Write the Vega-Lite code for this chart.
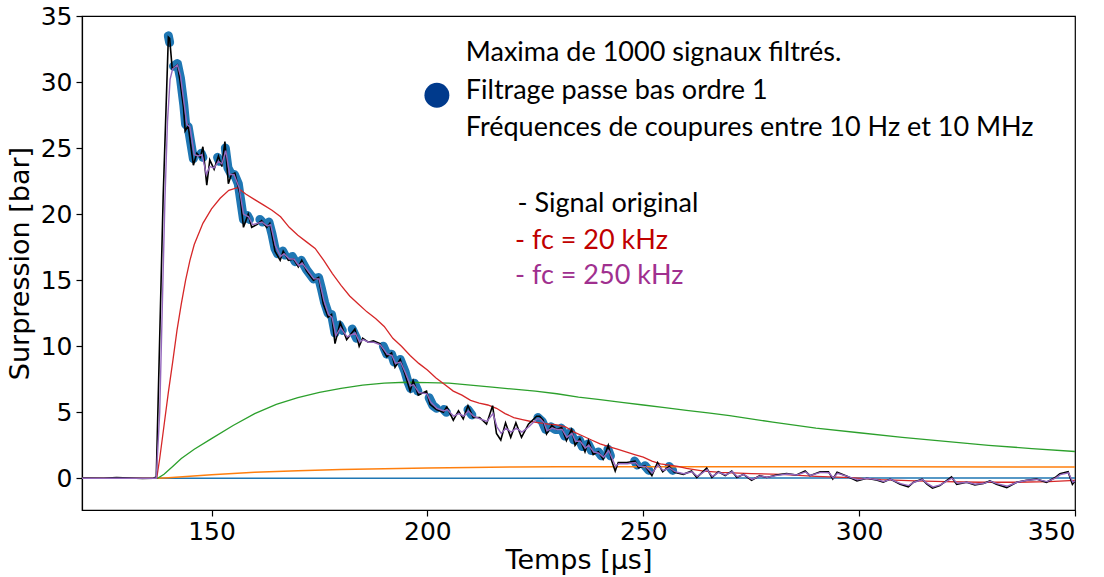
{
  "$schema": "https://vega.github.io/schema/vega-lite/v6.json",
  "width": 993,
  "height": 494,
  "autosize": {"type": "none"},
  "padding": {"left": 82, "top": 16, "right": 29, "bottom": 67},
  "background": "white",
  "config": {
    "view": {"stroke": "black", "strokeWidth": 1.2},
    "axis": {"grid": false, "domainColor": "black", "tickColor": "black", "labelColor": "black", "titleColor": "black", "labelFont": "DejaVu Sans", "titleFont": "DejaVu Sans", "labelFontSize": 25, "titleFontSize": 27, "titleFontWeight": "normal", "tickSize": 6, "domainWidth": 1.2, "tickWidth": 1.2}
  },
  "datasets": {
    "lines": [
      {"s": "flat", "t": 120, "v": 0}, {"s": "flat", "t": 137.3, "v": 0}, {"s": "flat", "t": 200, "v": 0.01}, {"s": "flat", "t": 350, "v": 0.02},
      {"s": "orange", "t": 120, "v": 0}, {"s": "orange", "t": 137.4, "v": 0}, {"s": "orange", "t": 140, "v": 0.05}, {"s": "orange", "t": 145, "v": 0.15}, {"s": "orange", "t": 150, "v": 0.27}, {"s": "orange", "t": 160, "v": 0.45}, {"s": "orange", "t": 170, "v": 0.57}, {"s": "orange", "t": 180, "v": 0.66}, {"s": "orange", "t": 190, "v": 0.73}, {"s": "orange", "t": 200, "v": 0.78}, {"s": "orange", "t": 210, "v": 0.82}, {"s": "orange", "t": 220, "v": 0.85}, {"s": "orange", "t": 230, "v": 0.87}, {"s": "orange", "t": 240, "v": 0.88}, {"s": "orange", "t": 260, "v": 0.88}, {"s": "orange", "t": 300, "v": 0.87}, {"s": "orange", "t": 350, "v": 0.85},
      {"s": "green", "t": 120, "v": 0}, {"s": "green", "t": 137.5, "v": 0}, {"s": "green", "t": 139, "v": 0.3}, {"s": "green", "t": 141, "v": 0.9}, {"s": "green", "t": 143, "v": 1.5}, {"s": "green", "t": 146, "v": 2.2}, {"s": "green", "t": 150, "v": 3.0}, {"s": "green", "t": 155, "v": 4.0}, {"s": "green", "t": 160, "v": 4.9}, {"s": "green", "t": 165, "v": 5.6}, {"s": "green", "t": 170, "v": 6.1}, {"s": "green", "t": 175, "v": 6.5}, {"s": "green", "t": 180, "v": 6.8}, {"s": "green", "t": 185, "v": 7.05}, {"s": "green", "t": 190, "v": 7.2}, {"s": "green", "t": 195, "v": 7.27}, {"s": "green", "t": 200, "v": 7.25}, {"s": "green", "t": 205, "v": 7.2}, {"s": "green", "t": 210, "v": 7.05}, {"s": "green", "t": 215, "v": 6.9}, {"s": "green", "t": 220, "v": 6.75}, {"s": "green", "t": 225, "v": 6.6}, {"s": "green", "t": 230, "v": 6.4}, {"s": "green", "t": 235, "v": 6.15}, {"s": "green", "t": 240, "v": 5.95}, {"s": "green", "t": 245, "v": 5.75}, {"s": "green", "t": 250, "v": 5.55}, {"s": "green", "t": 255, "v": 5.35}, {"s": "green", "t": 260, "v": 5.15}, {"s": "green", "t": 265, "v": 4.95}, {"s": "green", "t": 270, "v": 4.75}, {"s": "green", "t": 280, "v": 4.25}, {"s": "green", "t": 290, "v": 3.8}, {"s": "green", "t": 300, "v": 3.45}, {"s": "green", "t": 310, "v": 3.1}, {"s": "green", "t": 320, "v": 2.8}, {"s": "green", "t": 330, "v": 2.5}, {"s": "green", "t": 340, "v": 2.25}, {"s": "green", "t": 350, "v": 2.03},
      {"s": "red", "t": 120, "v": 0}, {"s": "red", "t": 137.3, "v": 0}, {"s": "red", "t": 138, "v": 1.5}, {"s": "red", "t": 139, "v": 4.0}, {"s": "red", "t": 140, "v": 6.5}, {"s": "red", "t": 141, "v": 8.8}, {"s": "red", "t": 142, "v": 11.2}, {"s": "red", "t": 143, "v": 13.2}, {"s": "red", "t": 144, "v": 15.0}, {"s": "red", "t": 145, "v": 16.5}, {"s": "red", "t": 146, "v": 17.7}, {"s": "red", "t": 148, "v": 19.3}, {"s": "red", "t": 150, "v": 20.4}, {"s": "red", "t": 152, "v": 21.2}, {"s": "red", "t": 154, "v": 21.8}, {"s": "red", "t": 156, "v": 22.0}, {"s": "red", "t": 158, "v": 21.5}, {"s": "red", "t": 160, "v": 21.1}, {"s": "red", "t": 162, "v": 20.7}, {"s": "red", "t": 164, "v": 20.3}, {"s": "red", "t": 166, "v": 19.8}, {"s": "red", "t": 168, "v": 19.0}, {"s": "red", "t": 170, "v": 18.4}, {"s": "red", "t": 172, "v": 17.9}, {"s": "red", "t": 174, "v": 17.4}, {"s": "red", "t": 176, "v": 16.5}, {"s": "red", "t": 178, "v": 15.5}, {"s": "red", "t": 180, "v": 14.6}, {"s": "red", "t": 182, "v": 13.8}, {"s": "red", "t": 184, "v": 13.2}, {"s": "red", "t": 186, "v": 12.6}, {"s": "red", "t": 188, "v": 12.1}, {"s": "red", "t": 190, "v": 11.5}, {"s": "red", "t": 192, "v": 10.6}, {"s": "red", "t": 194, "v": 10.0}, {"s": "red", "t": 196, "v": 9.3}, {"s": "red", "t": 198, "v": 8.7}, {"s": "red", "t": 200, "v": 8.2}, {"s": "red", "t": 202, "v": 7.6}, {"s": "red", "t": 204, "v": 7.1}, {"s": "red", "t": 206, "v": 6.6}, {"s": "red", "t": 208, "v": 6.3}, {"s": "red", "t": 210, "v": 5.9}, {"s": "red", "t": 212, "v": 5.7}, {"s": "red", "t": 214, "v": 5.55}, {"s": "red", "t": 216, "v": 5.3}, {"s": "red", "t": 218, "v": 4.9}, {"s": "red", "t": 220, "v": 4.6}, {"s": "red", "t": 222, "v": 4.45}, {"s": "red", "t": 224, "v": 4.3}, {"s": "red", "t": 226, "v": 4.2}, {"s": "red", "t": 228, "v": 4.1}, {"s": "red", "t": 230, "v": 4.05}, {"s": "red", "t": 232, "v": 3.9}, {"s": "red", "t": 234, "v": 3.5}, {"s": "red", "t": 236, "v": 3.2}, {"s": "red", "t": 238, "v": 2.9}, {"s": "red", "t": 240, "v": 2.6}, {"s": "red", "t": 242, "v": 2.4}, {"s": "red", "t": 244, "v": 2.2}, {"s": "red", "t": 246, "v": 2.0}, {"s": "red", "t": 248, "v": 1.8}, {"s": "red", "t": 250, "v": 1.6}, {"s": "red", "t": 252, "v": 1.3}, {"s": "red", "t": 254, "v": 1.1}, {"s": "red", "t": 256, "v": 1.0}, {"s": "red", "t": 258, "v": 0.9}, {"s": "red", "t": 260, "v": 0.75}, {"s": "red", "t": 264, "v": 0.55}, {"s": "red", "t": 268, "v": 0.45}, {"s": "red", "t": 275, "v": 0.35}, {"s": "red", "t": 282, "v": 0.3}, {"s": "red", "t": 290, "v": 0.15}, {"s": "red", "t": 298, "v": 0.05}, {"s": "red", "t": 305, "v": -0.1}, {"s": "red", "t": 313, "v": -0.2}, {"s": "red", "t": 320, "v": -0.25}, {"s": "red", "t": 328, "v": -0.3}, {"s": "red", "t": 336, "v": -0.3}, {"s": "red", "t": 344, "v": -0.25}, {"s": "red", "t": 350, "v": -0.15},
      {"s": "purple", "t": 120, "v": 0}, {"s": "purple", "t": 137.2, "v": 0}, {"s": "purple", "t": 138, "v": 5}, {"s": "purple", "t": 138.6, "v": 13}, {"s": "purple", "t": 139.2, "v": 21}, {"s": "purple", "t": 139.8, "v": 27}, {"s": "purple", "t": 140.4, "v": 30.2}, {"s": "purple", "t": 141, "v": 31.0}, {"s": "purple", "t": 142.1, "v": 31.3}, {"s": "purple", "t": 142.8, "v": 30.5}, {"s": "purple", "t": 143.6, "v": 28.5}, {"s": "purple", "t": 144.3, "v": 26.8}, {"s": "purple", "t": 145, "v": 26.6}, {"s": "purple", "t": 146, "v": 24.5}, {"s": "purple", "t": 147, "v": 24.4}, {"s": "purple", "t": 147.8, "v": 24.5}, {"s": "purple", "t": 148.8, "v": 23.0}, {"s": "purple", "t": 149.6, "v": 23.6}, {"s": "purple", "t": 150.6, "v": 23.5}, {"s": "purple", "t": 151.6, "v": 24.0}, {"s": "purple", "t": 152.4, "v": 23.8}, {"s": "purple", "t": 153.3, "v": 24.8}, {"s": "purple", "t": 154.2, "v": 23.0}, {"s": "purple", "t": 155.2, "v": 23.0}, {"s": "purple", "t": 156.4, "v": 22.0}, {"s": "purple", "t": 157.4, "v": 20.0}, {"s": "purple", "t": 158.6, "v": 19.8}, {"s": "purple", "t": 159.5, "v": 19.2}, {"s": "purple", "t": 160.6, "v": 19.3}, {"s": "purple", "t": 161.7, "v": 19.4}, {"s": "purple", "t": 162.9, "v": 19.1}, {"s": "purple", "t": 163.7, "v": 19.2}, {"s": "purple", "t": 164.8, "v": 17.6}, {"s": "purple", "t": 166, "v": 16.8}, {"s": "purple", "t": 166.8, "v": 17.0}, {"s": "purple", "t": 168, "v": 16.6}, {"s": "purple", "t": 169.1, "v": 16.6}, {"s": "purple", "t": 170.2, "v": 16.1}, {"s": "purple", "t": 171, "v": 16.3}, {"s": "purple", "t": 172.1, "v": 15.8}, {"s": "purple", "t": 173.7, "v": 15.1}, {"s": "purple", "t": 174.9, "v": 15.1}, {"s": "purple", "t": 176, "v": 13.5}, {"s": "purple", "t": 177.1, "v": 12.4}, {"s": "purple", "t": 177.9, "v": 12.2}, {"s": "purple", "t": 178.8, "v": 10.8}, {"s": "purple", "t": 179.9, "v": 11.4}, {"s": "purple", "t": 181.4, "v": 10.7}, {"s": "purple", "t": 183.3, "v": 11.0}, {"s": "purple", "t": 184.3, "v": 10.3}, {"s": "purple", "t": 185.1, "v": 10.5}, {"s": "purple", "t": 186.4, "v": 10.3}, {"s": "purple", "t": 187.6, "v": 10.3}, {"s": "purple", "t": 189.1, "v": 10.1}, {"s": "purple", "t": 190.7, "v": 9.4}, {"s": "purple", "t": 191.8, "v": 9.3}, {"s": "purple", "t": 192.6, "v": 8.7}, {"s": "purple", "t": 193.8, "v": 8.8}, {"s": "purple", "t": 194.9, "v": 8.0}, {"s": "purple", "t": 196.1, "v": 7.0}, {"s": "purple", "t": 196.8, "v": 7.1}, {"s": "purple", "t": 198, "v": 6.5}, {"s": "purple", "t": 199.9, "v": 6.4}, {"s": "purple", "t": 200.7, "v": 5.8}, {"s": "purple", "t": 202.2, "v": 5.3}, {"s": "purple", "t": 203.8, "v": 5.1}, {"s": "purple", "t": 204.6, "v": 5.2}, {"s": "purple", "t": 206.1, "v": 4.7}, {"s": "purple", "t": 207.3, "v": 4.9}, {"s": "purple", "t": 208.4, "v": 4.7}, {"s": "purple", "t": 209.5, "v": 5.1}, {"s": "purple", "t": 210.7, "v": 4.7}, {"s": "purple", "t": 212.2, "v": 4.5}, {"s": "purple", "t": 213.8, "v": 4.3}, {"s": "purple", "t": 215.2, "v": 4.9}, {"s": "purple", "t": 216.1, "v": 3.9}, {"s": "purple", "t": 217.1, "v": 3.4}, {"s": "purple", "t": 218.2, "v": 3.8}, {"s": "purple", "t": 219.4, "v": 3.5}, {"s": "purple", "t": 220.6, "v": 3.8}, {"s": "purple", "t": 221.9, "v": 3.5}, {"s": "purple", "t": 223.5, "v": 3.9}, {"s": "purple", "t": 225.4, "v": 4.5}, {"s": "purple", "t": 226.2, "v": 4.5}, {"s": "purple", "t": 227, "v": 4.2}, {"s": "purple", "t": 227.7, "v": 3.6}, {"s": "purple", "t": 228.9, "v": 3.8}, {"s": "purple", "t": 230, "v": 3.7}, {"s": "purple", "t": 231.2, "v": 3.7}, {"s": "purple", "t": 232.3, "v": 3.1}, {"s": "purple", "t": 233.5, "v": 3.4}, {"s": "purple", "t": 234.3, "v": 2.8}, {"s": "purple", "t": 235.4, "v": 2.8}, {"s": "purple", "t": 236.6, "v": 2.3}, {"s": "purple", "t": 237.4, "v": 2.5}, {"s": "purple", "t": 238.5, "v": 2.0}, {"s": "purple", "t": 239.7, "v": 1.9}, {"s": "purple", "t": 240.8, "v": 1.6}, {"s": "purple", "t": 242, "v": 2.1}, {"s": "purple", "t": 242.8, "v": 1.5}, {"s": "purple", "t": 243.6, "v": 0.9}, {"s": "purple", "t": 244.3, "v": 1.1}, {"s": "purple", "t": 246.3, "v": 1.1}, {"s": "purple", "t": 248.2, "v": 1.2}, {"s": "purple", "t": 249, "v": 0.9}, {"s": "purple", "t": 250.5, "v": 0.9}, {"s": "purple", "t": 252.1, "v": 0.4}, {"s": "purple", "t": 253.4, "v": 1.0}, {"s": "purple", "t": 254.6, "v": 0.6}, {"s": "purple", "t": 256.1, "v": 0.8}, {"s": "purple", "t": 257.3, "v": 0.5}, {"s": "purple", "t": 259.4, "v": 0.35}, {"s": "purple", "t": 261.3, "v": 0.5}, {"s": "purple", "t": 262.5, "v": 0.15}, {"s": "purple", "t": 264.8, "v": 0.65}, {"s": "purple", "t": 266, "v": 0.15}, {"s": "purple", "t": 267.5, "v": 0.45}, {"s": "purple", "t": 269.1, "v": 0.25}, {"s": "purple", "t": 270.6, "v": 0.5}, {"s": "purple", "t": 271.8, "v": 0.12}, {"s": "purple", "t": 273.3, "v": 0.28}, {"s": "purple", "t": 275.2, "v": -0.08}, {"s": "purple", "t": 277.1, "v": 0.18}, {"s": "purple", "t": 278.7, "v": 0.08}, {"s": "purple", "t": 281, "v": 0.22}, {"s": "purple", "t": 283.3, "v": 0.32}, {"s": "purple", "t": 285.6, "v": 0.25}, {"s": "purple", "t": 287.6, "v": 0.48}, {"s": "purple", "t": 288.7, "v": 0.22}, {"s": "purple", "t": 291.1, "v": 0.45}, {"s": "purple", "t": 293, "v": 0.42}, {"s": "purple", "t": 294, "v": 0.02}, {"s": "purple", "t": 295, "v": 0.38}, {"s": "purple", "t": 297.3, "v": 0.15}, {"s": "purple", "t": 299.6, "v": -0.12}, {"s": "purple", "t": 301.9, "v": 0.0}, {"s": "purple", "t": 304.3, "v": -0.12}, {"s": "purple", "t": 305.7, "v": -0.25}, {"s": "purple", "t": 307.3, "v": -0.08}, {"s": "purple", "t": 309.6, "v": -0.4}, {"s": "purple", "t": 311.5, "v": -0.55}, {"s": "purple", "t": 312.7, "v": -0.3}, {"s": "purple", "t": 314.7, "v": -0.1}, {"s": "purple", "t": 315.8, "v": -0.4}, {"s": "purple", "t": 317.1, "v": -0.65}, {"s": "purple", "t": 318.8, "v": -0.5}, {"s": "purple", "t": 321.5, "v": 0.02}, {"s": "purple", "t": 322.7, "v": -0.38}, {"s": "purple", "t": 325, "v": -0.3}, {"s": "purple", "t": 326.9, "v": -0.45}, {"s": "purple", "t": 328.9, "v": -0.38}, {"s": "purple", "t": 330.4, "v": -0.22}, {"s": "purple", "t": 331.9, "v": -0.4}, {"s": "purple", "t": 334.3, "v": -0.6}, {"s": "purple", "t": 336.6, "v": -0.3}, {"s": "purple", "t": 338.9, "v": -0.15}, {"s": "purple", "t": 341.2, "v": -0.08}, {"s": "purple", "t": 343.5, "v": -0.25}, {"s": "purple", "t": 345.5, "v": 0.02}, {"s": "purple", "t": 346.6, "v": 0.28}, {"s": "purple", "t": 348.5, "v": 0.42}, {"s": "purple", "t": 349.5, "v": -0.3}, {"s": "purple", "t": 350, "v": -0.2},
      {"s": "black", "t": 120, "v": 0.02}, {"s": "black", "t": 125, "v": 0.0}, {"s": "black", "t": 128, "v": 0.05}, {"s": "black", "t": 131, "v": 0.02}, {"s": "black", "t": 134, "v": -0.02}, {"s": "black", "t": 136.5, "v": 0.0}, {"s": "black", "t": 137.2, "v": 0.1}, {"s": "black", "t": 138.8, "v": 21.3}, {"s": "black", "t": 140.0, "v": 33.4}, {"s": "black", "t": 140.3, "v": 33.3}, {"s": "black", "t": 140.9, "v": 31.0}, {"s": "black", "t": 142.1, "v": 31.3}, {"s": "black", "t": 142.7, "v": 30.1}, {"s": "black", "t": 143.5, "v": 28.1}, {"s": "black", "t": 143.9, "v": 26.3}, {"s": "black", "t": 144.6, "v": 26.7}, {"s": "black", "t": 145.8, "v": 23.7}, {"s": "black", "t": 146.6, "v": 24.6}, {"s": "black", "t": 147.4, "v": 24.3}, {"s": "black", "t": 148.0, "v": 25.1}, {"s": "black", "t": 148.9, "v": 22.2}, {"s": "black", "t": 149.6, "v": 24.1}, {"s": "black", "t": 150.6, "v": 23.4}, {"s": "black", "t": 151.6, "v": 24.4}, {"s": "black", "t": 152.4, "v": 23.6}, {"s": "black", "t": 153.1, "v": 25.5}, {"s": "black", "t": 153.9, "v": 22.3}, {"s": "black", "t": 154.6, "v": 23.0}, {"s": "black", "t": 155.4, "v": 23.1}, {"s": "black", "t": 156.6, "v": 21.5}, {"s": "black", "t": 157.4, "v": 19.0}, {"s": "black", "t": 158.5, "v": 20.0}, {"s": "black", "t": 159.3, "v": 19.0}, {"s": "black", "t": 160.5, "v": 19.2}, {"s": "black", "t": 161.6, "v": 19.5}, {"s": "black", "t": 162.8, "v": 19.0}, {"s": "black", "t": 163.5, "v": 19.3}, {"s": "black", "t": 164.7, "v": 17.2}, {"s": "black", "t": 165.9, "v": 16.5}, {"s": "black", "t": 166.6, "v": 17.2}, {"s": "black", "t": 167.8, "v": 16.5}, {"s": "black", "t": 169.0, "v": 16.6}, {"s": "black", "t": 170.1, "v": 16.0}, {"s": "black", "t": 170.9, "v": 16.5}, {"s": "black", "t": 172.0, "v": 15.7}, {"s": "black", "t": 173.6, "v": 15.0}, {"s": "black", "t": 174.8, "v": 15.2}, {"s": "black", "t": 175.9, "v": 13.2}, {"s": "black", "t": 177.0, "v": 12.2}, {"s": "black", "t": 177.8, "v": 12.4}, {"s": "black", "t": 178.6, "v": 10.2}, {"s": "black", "t": 179.8, "v": 11.8}, {"s": "black", "t": 181.3, "v": 10.5}, {"s": "black", "t": 183.2, "v": 11.3}, {"s": "black", "t": 184.2, "v": 10.0}, {"s": "black", "t": 185.0, "v": 10.6}, {"s": "black", "t": 186.3, "v": 10.3}, {"s": "black", "t": 187.5, "v": 10.4}, {"s": "black", "t": 189.0, "v": 10.2}, {"s": "black", "t": 190.6, "v": 9.2}, {"s": "black", "t": 191.7, "v": 9.5}, {"s": "black", "t": 192.5, "v": 8.4}, {"s": "black", "t": 193.7, "v": 9.0}, {"s": "black", "t": 194.8, "v": 7.9}, {"s": "black", "t": 196.0, "v": 6.6}, {"s": "black", "t": 196.7, "v": 7.4}, {"s": "black", "t": 197.9, "v": 6.3}, {"s": "black", "t": 199.8, "v": 6.6}, {"s": "black", "t": 200.6, "v": 5.6}, {"s": "black", "t": 202.1, "v": 5.2}, {"s": "black", "t": 203.7, "v": 5.0}, {"s": "black", "t": 204.5, "v": 5.4}, {"s": "black", "t": 206.0, "v": 4.4}, {"s": "black", "t": 207.2, "v": 5.1}, {"s": "black", "t": 208.3, "v": 4.5}, {"s": "black", "t": 209.4, "v": 5.5}, {"s": "black", "t": 210.6, "v": 4.6}, {"s": "black", "t": 212.1, "v": 4.6}, {"s": "black", "t": 213.7, "v": 4.1}, {"s": "black", "t": 215.1, "v": 5.5}, {"s": "black", "t": 216.0, "v": 3.4}, {"s": "black", "t": 217.0, "v": 2.9}, {"s": "black", "t": 218.1, "v": 4.2}, {"s": "black", "t": 219.3, "v": 3.1}, {"s": "black", "t": 220.5, "v": 4.2}, {"s": "black", "t": 221.8, "v": 3.1}, {"s": "black", "t": 223.4, "v": 4.1}, {"s": "black", "t": 225.3, "v": 4.7}, {"s": "black", "t": 226.0, "v": 4.7}, {"s": "black", "t": 226.8, "v": 4.4}, {"s": "black", "t": 227.6, "v": 3.35}, {"s": "black", "t": 228.8, "v": 4.0}, {"s": "black", "t": 229.9, "v": 3.7}, {"s": "black", "t": 231.1, "v": 3.85}, {"s": "black", "t": 232.2, "v": 2.85}, {"s": "black", "t": 233.4, "v": 3.7}, {"s": "black", "t": 234.2, "v": 2.5}, {"s": "black", "t": 235.3, "v": 3.0}, {"s": "black", "t": 236.5, "v": 2.0}, {"s": "black", "t": 237.3, "v": 2.85}, {"s": "black", "t": 238.4, "v": 1.8}, {"s": "black", "t": 239.6, "v": 2.0}, {"s": "black", "t": 240.7, "v": 1.45}, {"s": "black", "t": 241.9, "v": 2.5}, {"s": "black", "t": 242.7, "v": 1.3}, {"s": "black", "t": 243.5, "v": 0.55}, {"s": "black", "t": 244.2, "v": 1.2}, {"s": "black", "t": 246.2, "v": 1.2}, {"s": "black", "t": 248.1, "v": 1.3}, {"s": "black", "t": 248.9, "v": 0.8}, {"s": "black", "t": 250.4, "v": 0.95}, {"s": "black", "t": 252.0, "v": 0.2}, {"s": "black", "t": 253.3, "v": 1.2}, {"s": "black", "t": 254.5, "v": 0.5}, {"s": "black", "t": 256.0, "v": 0.9}, {"s": "black", "t": 257.2, "v": 0.45}, {"s": "black", "t": 259.3, "v": 0.3}, {"s": "black", "t": 261.2, "v": 0.55}, {"s": "black", "t": 262.4, "v": 0.06}, {"s": "black", "t": 264.7, "v": 0.77}, {"s": "black", "t": 265.9, "v": 0.06}, {"s": "black", "t": 267.4, "v": 0.5}, {"s": "black", "t": 269.0, "v": 0.2}, {"s": "black", "t": 270.5, "v": 0.55}, {"s": "black", "t": 271.7, "v": 0.06}, {"s": "black", "t": 273.2, "v": 0.3}, {"s": "black", "t": 275.1, "v": -0.15}, {"s": "black", "t": 277.0, "v": 0.2}, {"s": "black", "t": 278.6, "v": 0.06}, {"s": "black", "t": 280.9, "v": 0.25}, {"s": "black", "t": 283.2, "v": 0.35}, {"s": "black", "t": 285.5, "v": 0.25}, {"s": "black", "t": 287.5, "v": 0.55}, {"s": "black", "t": 288.6, "v": 0.2}, {"s": "black", "t": 291.0, "v": 0.5}, {"s": "black", "t": 292.9, "v": 0.5}, {"s": "black", "t": 293.9, "v": -0.06}, {"s": "black", "t": 294.9, "v": 0.45}, {"s": "black", "t": 297.2, "v": 0.15}, {"s": "black", "t": 299.5, "v": -0.2}, {"s": "black", "t": 301.8, "v": 0.0}, {"s": "black", "t": 304.2, "v": -0.15}, {"s": "black", "t": 305.6, "v": -0.3}, {"s": "black", "t": 307.2, "v": -0.06}, {"s": "black", "t": 309.5, "v": -0.45}, {"s": "black", "t": 311.4, "v": -0.65}, {"s": "black", "t": 312.6, "v": -0.3}, {"s": "black", "t": 314.6, "v": -0.06}, {"s": "black", "t": 315.7, "v": -0.45}, {"s": "black", "t": 317.0, "v": -0.75}, {"s": "black", "t": 318.7, "v": -0.55}, {"s": "black", "t": 321.4, "v": 0.1}, {"s": "black", "t": 322.6, "v": -0.45}, {"s": "black", "t": 324.9, "v": -0.3}, {"s": "black", "t": 326.8, "v": -0.5}, {"s": "black", "t": 328.8, "v": -0.4}, {"s": "black", "t": 330.3, "v": -0.2}, {"s": "black", "t": 331.8, "v": -0.45}, {"s": "black", "t": 334.2, "v": -0.7}, {"s": "black", "t": 336.5, "v": -0.3}, {"s": "black", "t": 338.8, "v": -0.15}, {"s": "black", "t": 341.1, "v": -0.06}, {"s": "black", "t": 343.4, "v": -0.3}, {"s": "black", "t": 345.4, "v": 0.06}, {"s": "black", "t": 346.5, "v": 0.35}, {"s": "black", "t": 348.4, "v": 0.5}, {"s": "black", "t": 349.4, "v": -0.45}, {"s": "black", "t": 350.0, "v": -0.2}
    ],
    "maxima": [
      {"g": 1, "t": 140.0, "v": 33.5}, {"g": 1, "t": 140.3, "v": 33.0},
      {"g": 2, "t": 141.2, "v": 31.2}, {"g": 2, "t": 142.1, "v": 31.4}, {"g": 2, "t": 142.8, "v": 30.3}, {"g": 2, "t": 143.6, "v": 28.2}, {"g": 2, "t": 144.0, "v": 26.8}, {"g": 2, "t": 144.6, "v": 26.6}, {"g": 2, "t": 145.3, "v": 25.2}, {"g": 2, "t": 145.8, "v": 24.2},
      {"g": 3, "t": 147.6, "v": 24.6}, {"g": 3, "t": 148.0, "v": 24.3},
      {"g": 4, "t": 151.4, "v": 24.3}, {"g": 4, "t": 151.8, "v": 24.0},
      {"g": 5, "t": 153.2, "v": 25.0}, {"g": 5, "t": 153.8, "v": 23.5}, {"g": 5, "t": 154.6, "v": 23.0}, {"g": 5, "t": 155.3, "v": 23.0}, {"g": 5, "t": 156.2, "v": 22.3}, {"g": 5, "t": 157.0, "v": 20.5}, {"g": 5, "t": 157.4, "v": 19.6},
      {"g": 6, "t": 158.3, "v": 19.9}, {"g": 6, "t": 158.8, "v": 19.6},
      {"g": 7, "t": 161.2, "v": 19.6}, {"g": 7, "t": 161.8, "v": 19.4},
      {"g": 8, "t": 163.3, "v": 19.4}, {"g": 8, "t": 164.0, "v": 18.5}, {"g": 8, "t": 164.7, "v": 17.4}, {"g": 8, "t": 165.3, "v": 17.0},
      {"g": 9, "t": 166.5, "v": 17.2}, {"g": 9, "t": 167.0, "v": 16.9},
      {"g": 10, "t": 168.7, "v": 16.8}, {"g": 10, "t": 169.4, "v": 16.4},
      {"g": 11, "t": 170.8, "v": 16.5}, {"g": 11, "t": 172.0, "v": 15.8}, {"g": 11, "t": 173.6, "v": 15.1}, {"g": 11, "t": 174.8, "v": 15.2}, {"g": 11, "t": 175.5, "v": 14.3}, {"g": 11, "t": 176.2, "v": 13.3}, {"g": 11, "t": 177.0, "v": 12.5},
      {"g": 12, "t": 177.8, "v": 12.4}, {"g": 12, "t": 178.6, "v": 11.0},
      {"g": 13, "t": 179.6, "v": 11.6}, {"g": 13, "t": 180.3, "v": 11.2},
      {"g": 14, "t": 182.6, "v": 11.3}, {"g": 14, "t": 183.6, "v": 10.6},
      {"g": 15, "t": 189.8, "v": 10.0}, {"g": 15, "t": 190.6, "v": 9.4},
      {"g": 16, "t": 191.7, "v": 9.4}, {"g": 16, "t": 192.3, "v": 8.8},
      {"g": 17, "t": 193.7, "v": 9.0}, {"g": 17, "t": 194.8, "v": 8.1}, {"g": 17, "t": 195.5, "v": 7.3}, {"g": 17, "t": 196.1, "v": 6.8},
      {"g": 18, "t": 197.0, "v": 7.2}, {"g": 18, "t": 197.8, "v": 6.6},
      {"g": 19, "t": 200.4, "v": 6.1}, {"g": 19, "t": 201.3, "v": 5.5}, {"g": 19, "t": 202.1, "v": 5.3},
      {"g": 20, "t": 203.8, "v": 5.2}, {"g": 20, "t": 204.4, "v": 5.0},
      {"g": 21, "t": 209.4, "v": 5.2}, {"g": 21, "t": 210.3, "v": 4.8},
      {"g": 23, "t": 225.6, "v": 4.6}, {"g": 23, "t": 226.6, "v": 4.3}, {"g": 23, "t": 227.4, "v": 3.7},
      {"g": 24, "t": 228.6, "v": 3.9}, {"g": 24, "t": 229.6, "v": 3.7}, {"g": 24, "t": 230.3, "v": 3.7},
      {"g": 25, "t": 231.0, "v": 3.8}, {"g": 25, "t": 231.8, "v": 3.2},
      {"g": 26, "t": 233.2, "v": 3.5}, {"g": 26, "t": 233.9, "v": 2.9},
      {"g": 27, "t": 235.2, "v": 2.9}, {"g": 27, "t": 235.9, "v": 2.4},
      {"g": 28, "t": 237.2, "v": 2.6}, {"g": 28, "t": 238.0, "v": 2.1},
      {"g": 29, "t": 239.6, "v": 2.0}, {"g": 29, "t": 240.3, "v": 1.7},
      {"g": 30, "t": 241.8, "v": 2.2}, {"g": 30, "t": 242.4, "v": 1.7},
      {"g": 31, "t": 248.0, "v": 1.3}, {"g": 31, "t": 248.6, "v": 1.0},
      {"g": 32, "t": 250.4, "v": 0.95}, {"g": 32, "t": 251.3, "v": 0.6},
      {"g": 33, "t": 256.0, "v": 0.9}, {"g": 33, "t": 256.8, "v": 0.6}
    ],
    "notes": [
      {"k": "black", "t": 208.9, "v": 32.2, "txt": "Maxima de 1000 signaux filtrés."},
      {"k": "black", "t": 208.9, "v": 29.3, "txt": "Filtrage passe bas ordre 1"},
      {"k": "black", "t": 208.9, "v": 26.5, "txt": "Fréquences de coupures entre 10 Hz et 10 MHz"},
      {"k": "black", "t": 220.9, "v": 20.8, "txt": "- Signal original"},
      {"k": "red", "t": 220.3, "v": 18.0, "txt": "- fc = 20 kHz"},
      {"k": "purple", "t": 220.3, "v": 15.35, "txt": "- fc = 250 kHz"}
    ],
    "dot": [{"t": 202.2, "v": 29.0}]
  },
  "encoding": {
    "x": {"field": "t", "type": "quantitative", "scale": {"domain": [120, 350], "nice": false, "zero": false}, "axis": {"title": "Temps [µs]", "values": [150, 200, 250, 300, 350], "titlePadding": 3, "labelPadding": 3}},
    "y": {"field": "v", "type": "quantitative", "scale": {"domain": [-2.4, 35], "nice": false, "zero": false}, "axis": {"title": "Surpression [bar]", "values": [0, 5, 10, 15, 20, 25, 30, 35], "titlePadding": 6, "labelPadding": 4}}
  },
  "layer": [
    {"data": {"name": "maxima"}, "mark": {"type": "line", "color": "#1f77b4", "strokeWidth": 9, "strokeCap": "round", "strokeJoin": "round"}, "encoding": {"detail": {"field": "g"}}},
    {"data": {"name": "lines"}, "transform": [{"filter": "datum.s == 'flat'"}], "mark": {"type": "line", "color": "#1f77b4", "strokeWidth": 1.5}},
    {"data": {"name": "lines"}, "transform": [{"filter": "datum.s == 'orange'"}], "mark": {"type": "line", "color": "#ff7f0e", "strokeWidth": 1.5}},
    {"data": {"name": "lines"}, "transform": [{"filter": "datum.s == 'green'"}], "mark": {"type": "line", "color": "#2ca02c", "strokeWidth": 1.3}},
    {"data": {"name": "lines"}, "transform": [{"filter": "datum.s == 'red'"}], "mark": {"type": "line", "color": "#d62728", "strokeWidth": 1.3}},
    {"data": {"name": "lines"}, "transform": [{"filter": "datum.s == 'black'"}], "mark": {"type": "line", "color": "black", "strokeWidth": 1.6}},
    {"data": {"name": "lines"}, "transform": [{"filter": "datum.s == 'purple'"}], "mark": {"type": "line", "color": "#9467bd", "strokeWidth": 1.4}},
    {"data": {"name": "dot"}, "mark": {"type": "point", "filled": true, "color": "#003a8c", "opacity": 1, "size": 620}},
    {"data": {"name": "notes"}, "transform": [{"filter": "datum.k == 'black'"}], "mark": {"type": "text", "align": "left", "baseline": "middle", "font": "Lato", "fontSize": 27, "color": "black"}, "encoding": {"text": {"field": "txt"}}},
    {"data": {"name": "notes"}, "transform": [{"filter": "datum.k == 'red'"}], "mark": {"type": "text", "align": "left", "baseline": "middle", "font": "Lato", "fontSize": 27, "color": "#c00000"}, "encoding": {"text": {"field": "txt"}}},
    {"data": {"name": "notes"}, "transform": [{"filter": "datum.k == 'purple'"}], "mark": {"type": "text", "align": "left", "baseline": "middle", "font": "Lato", "fontSize": 27, "color": "#a0308f"}, "encoding": {"text": {"field": "txt"}}}
  ]
}
